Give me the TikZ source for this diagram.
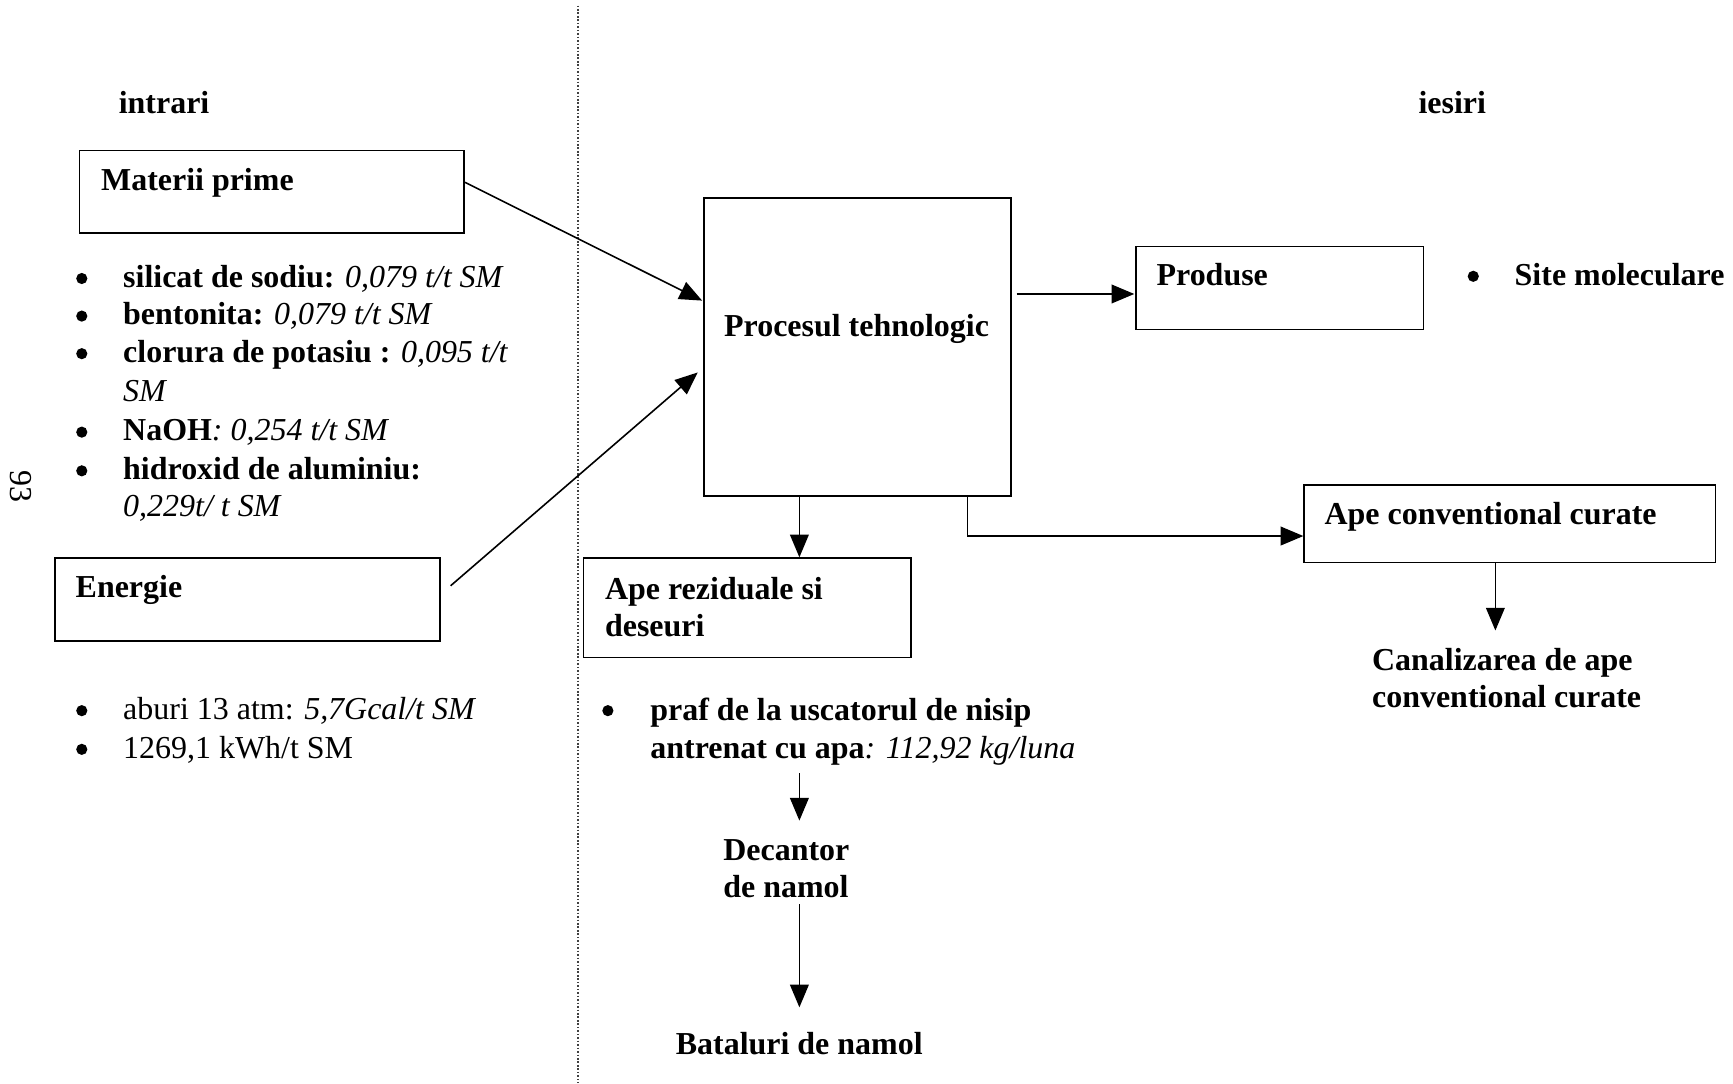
\documentclass[tikz,border=0pt]{standalone}
\usepackage{fontspec}
\setmainfont{Liberation Serif}
\usetikzlibrary{arrows.meta,calc,fit}
\begin{document}
\begin{tikzpicture}[x=0.415pt,y=-0.415pt,
  every node/.style={font=\fontsize{12}{13.9}\selectfont, inner sep=0pt},
  box/.style={draw, line width=0.6pt, fit={#1}, inner sep=0pt},
  txt/.style={anchor=base west},
  hd/.style={anchor=base west, font=\fontsize{12}{13.9}\selectfont\bfseries},
  para/.style={anchor=north west, align=left},
  bul/.style={circle, fill, inner sep=0pt, minimum size=4.2pt},
  arr/.style={-{Triangle[length=8.5pt,width=7pt]}, line width=0.6pt},
  divider/.style={line width=0.5pt, black!75, dash pattern=on 0.6pt off 0.7pt}]

\fill[white] (0,0) rectangle (1568,980);
\useasboundingbox (0,0) rectangle (1568,980);

% vertical separator between inputs and outputs
\coordinate (dtop) at (523,5);
\coordinate (dbot) at (523,980);
\draw[divider] (dtop) -- (dbot);

% page number
\node[rotate=-90] (pg) at (19,440) {93};

% column headings
\node[hd] (intrari) at (107,103) {intrari};
\node[hd] (iesiri) at (1283,103) {iesiri};

% raw materials
\node[box={(72,136)(420,211)}] (mat) {};
\node[hd] (matt) at (91,172) {Materii prime};

\node[bul] (b1) at (74,252) {};
\node[txt] (l1) at (111,260) {\textbf{silicat de sodiu:} \textit{0,079 t/t SM}};
\node[bul] (b2) at (74,286) {};
\node[txt] (l2) at (111,294) {\textbf{bentonita:} \textit{0,079 t/t SM}};
\node[bul] (b3) at (74,320) {};
\node[txt] (l3) at (111,328) {\textbf{clorura de potasiu :} \textit{0,095 t/t}};
\node[txt] (l3b) at (111,363) {\textit{SM}};
\node[bul] (b4) at (74,391) {};
\node[txt] (l4) at (111,399) {\textbf{NaOH}\textit{: 0,254 t/t SM}};
\node[bul] (b5) at (74,426) {};
\node[txt] (l5) at (111,434) {\textbf{hidroxid de aluminiu:}};
\node[txt] (l5b) at (111,467) {\textit{0,229t/ t SM}};

% energy
\node[box={(50,505)(398,580)}] (ene) {};
\node[hd] (enet) at (68,541) {Energie};

\node[bul] (b6) at (74,643) {};
\node[txt] (l6) at (111,651) {aburi 13 atm: \textit{5,7Gcal/t SM}};
\node[bul] (b7) at (74,678) {};
\node[txt] (l7) at (111,686) {1269,1 kWh/t SM};

% process
\node[box={(637,179)(915,449)}] (proc) {};
\node[anchor=base, font=\fontsize{12}{13.9}\selectfont\bfseries] (proct) at (775,304.5) {Procesul tehnologic};

% products
\node[box={(1028,223)(1288,298)}] (prod) {};
\node[hd] (prodt) at (1046,258) {Produse};
\node[bul] (b8) at (1333,250) {};
\node[hd] (site) at (1370,258) {Site moleculare};

% waste water and waste
\node[box={(528,505)(824,595)}] (rez) {};
\node[para, font=\fontsize{12}{13.9}\selectfont\bfseries] (rezt) at (547,521.5) {Ape reziduale si\\deseuri};

\node[bul] (b9) at (550,643) {};
\node[para] (praf) at (588,631.5) {\textbf{praf de la uscatorul de nisip}\\\textbf{antrenat cu apa}\textit{: 112,92 kg/luna}};
\node[para, font=\fontsize{12}{13.9}\selectfont\bfseries] (dec) at (654,759.5) {Decantor\\de namol};
\node[hd] (bat) at (611,954) {Bataluri de namol};

% conventionally clean water
\node[box={(1180,439)(1552,509)}] (conv) {};
\node[hd] (convt) at (1198,475) {Ape conventional curate};
\node[para, font=\fontsize{12}{13.9}\selectfont\bfseries] (canal) at (1241,586.5) {Canalizarea de ape\\conventional curate};

% connectors
\draw[arr] ($(mat.east)+(0,-8.5)$) -- ($(proc.west)+(-1,-42)$);
\draw[arr] ($(ene.east)+(9,-12.5)$) -- ($(proc.west)+(-5,23)$);
\draw[arr] ($(proc.east)+(4,-48)$) -- ($(prod.west)+(-1,5.5)$);
\coordinate (pd) at ($(proc.south west)+(87,0)$);
\draw[arr] (pd) -- (pd |- rez.north);
\coordinate (pe) at ($(proc.south west)+(239,0)$);
\draw[arr] (pe) |- ($(conv.west)+(0,11)$);
\coordinate (cw) at ($(conv.south)+(-13,0)$);
\draw[arr] (cw) -- ($(cw |- canal.north)+(0,-16)$);
\draw[arr] ($(pd |- praf.south)+(0,7)$) -- ($(pd |- dec.north)+(0,-17)$);
\draw[arr] ($(pd |- dec.south)+(0,5)$) -- ($(pd |- bat.north)+(0,-22)$);
\end{tikzpicture}
\end{document}
